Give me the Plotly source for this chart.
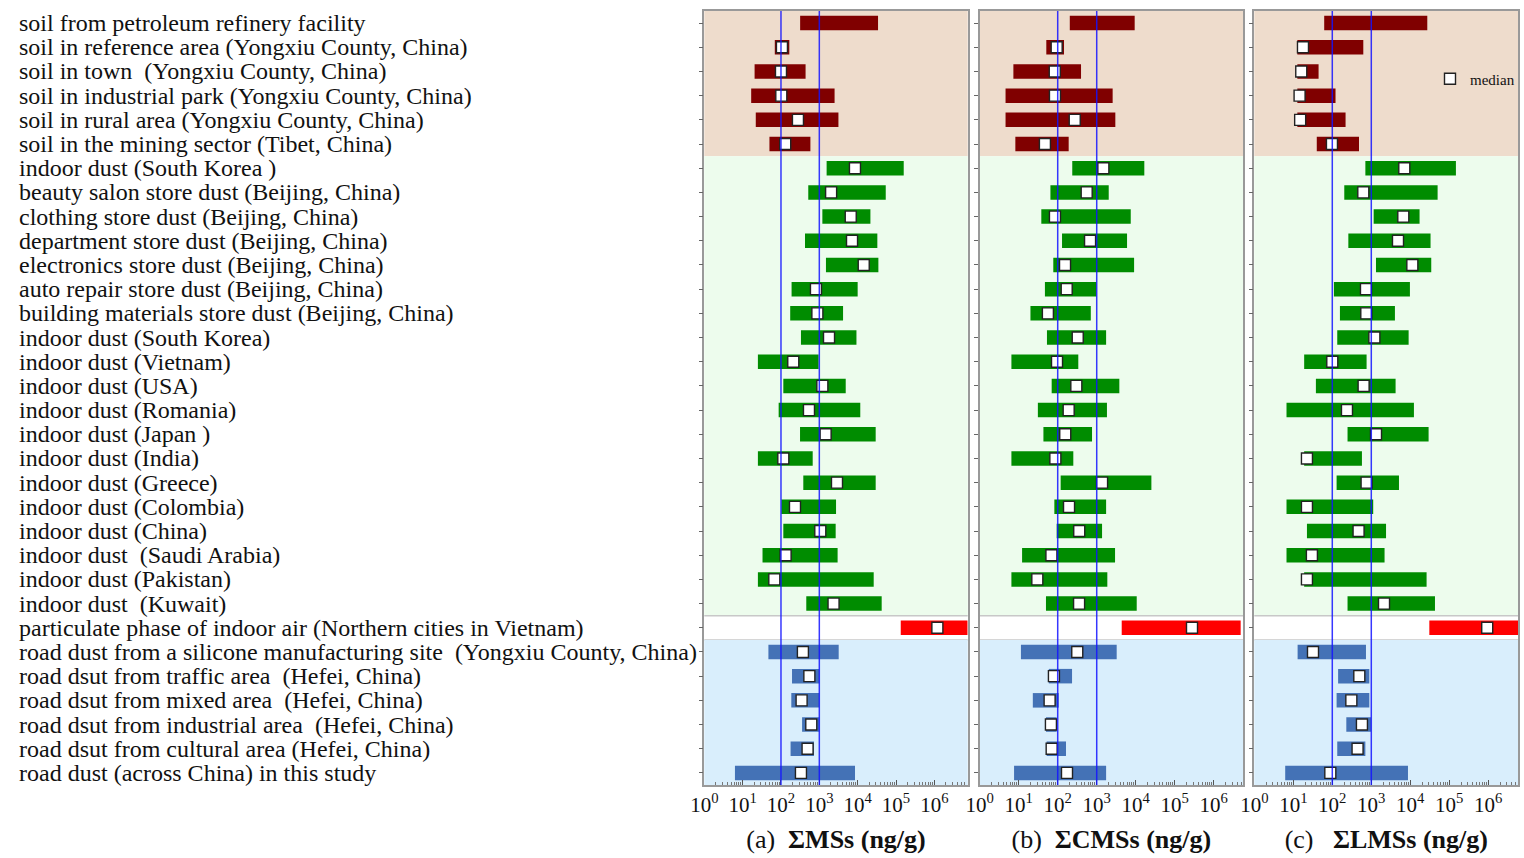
import plotly.graph_objects as go

# ---- categories (top to bottom) ----
labels = [
    "soil from petroleum refinery facility",
    "soil in reference area (Yongxiu County, China)",
    "soil in town  (Yongxiu County, China)",
    "soil in industrial park (Yongxiu County, China)",
    "soil in rural area (Yongxiu County, China)",
    "soil in the mining sector (Tibet, China)",
    "indoor dust (South Korea )",
    "beauty salon store dust (Beijing, China)",
    "clothing store dust (Beijing, China)",
    "department store dust (Beijing, China)",
    "electronics store dust (Beijing, China)",
    "auto repair store dust (Beijing, China)",
    "building materials store dust (Beijing, China)",
    "indoor dust (South Korea)",
    "indoor dust (Vietnam)",
    "indoor dust (USA)",
    "indoor dust (Romania)",
    "indoor dust (Japan )",
    "indoor dust (India)",
    "indoor dust (Greece)",
    "indoor dust (Colombia)",
    "indoor dust (China)",
    "indoor dust  (Saudi Arabia)",
    "indoor dust (Pakistan)",
    "indoor dust  (Kuwait)",
    "particulate phase of indoor air (Northern cities in Vietnam)",
    "road dust from a silicone manufacturing site  (Yongxiu County, China)",
    "road dsut from traffic area  (Hefei, China)",
    "road dsut from mixed area  (Hefei, China)",
    "road dsut from industrial area  (Hefei, China)",
    "road dsut from cultural area (Hefei, China)",
    "road dust (across China) in this study",
]
groups = ["soil"] * 6 + ["dust"] * 19 + ["air"] + ["road"] * 6

# ---- ΣMSs (ng/g): min, max, median ----
ms_low = [316, 69, 20.5, 16.7, 22, 50, 1550, 515, 1200, 423, 1490, 189, 174, 332, 25,
          115, 87, 314, 25, 382, 102, 115, 33, 25, 457, 133000, 47, 194, 186, 355, 178, 6.3]
ms_high = [34000, 165, 438, 2500, 3150, 585, 159000, 54000, 21500, 32600, 34700, 10000,
           4160, 9300, 957, 4880, 11700, 29500, 672, 29500, 2730, 2670, 3000, 26200, 42300,
           7.4e6, 3200, 1000, 1000, 1000, 725, 8530]
ms_median = [None, 106, 100, 102, 277, 129, 8500, 2030, 6600, 7130, 14400, 817, 890, 1790,
             209, 1200, 537, 1460, 115, 2890, 232, 1060, 132, 67, 2350, 1.2e6, 373, 550, 345,
             617, 494, 332]

# ---- ΣCMSs (ng/g) ----
cms_low = [204, 51, 7.3, 4.6, 4.6, 8.2, 236, 65, 38, 129, 77, 47, 20, 53, 6.5, 70, 31, 43,
           6.5, 119, 82, 94, 12.2, 6.5, 50, 4370, 11.4, 59, 23, 50, 52, 7.6]
cms_high = [9400, 145, 396, 2560, 3000, 191, 16600, 2030, 7450, 5990, 9080, 977, 705, 1740,
            337, 3800, 1830, 758, 251, 25200, 1740, 1370, 2950, 1870, 10600, 4.9e6, 3250,
            233, 106, 94, 163, 1740]
cms_median = [None, 94, 84, 85, 273, 47, 1480, 553, 85, 675, 154, 170, 56, 326, 96, 300,
              191, 156, 87, 1370, 195, 356, 69, 30, 353, 277000, 317, 80, 62, 67, 70, 173]

# ---- ΣLMSs (ng/g) ----
lms_low = [62, 12.7, 12.7, 12.7, 12.7, 40, 705, 203, 1150, 258, 1320, 110, 157, 134, 19,
           38, 6.7, 246, 19, 129, 6.7, 22.4, 6.7, 19, 246, 30800, 12.9, 141, 129, 229, 134, 6.2]
lms_high = [27300, 624, 44.5, 121, 219, 484, 148000, 50200, 17300, 33100, 34500, 9790, 4040,
            9070, 758, 4200, 12400, 29500, 576, 5130, 1120, 2390, 2190, 26200, 43000, 6.5e6,
            731, 890, 890, 984, 705, 8730]
lms_median = [None, 17.7, 16, 14.5, 15, 98, 7020, 624, 6620, 4840, 11300, 731, 745, 1200,
              100, 636, 238, 1320, 22.4, 758, 22.4, 472, 30, 22.4, 2120, 940000, 32, 493,
              308, 576, 445, 89]

tick_vals = [1, 10, 100, 1000, 1e4, 1e5, 1e6]
tick_text = ["10<sup>%d</sup>" % i for i in range(7)]
reference_levels = [100, 1000]

bar_colors = {"soil": "#800000", "dust": "#008C00", "air": "#FF0000", "road": "#4472B6"}
band_colors = {"soil": "#EEDCCC", "dust": "#EDFCED", "air": "#FFFFFF", "road": "#D9EEFC"}

FONT = "Liberation Serif, Times New Roman, serif"
W, H = 1524, 858

panels = [
    ("x", "y", ms_low, ms_high, ms_median, "(a)\u00a0\u00a0<b>ΣMSs (ng/g)</b>",
     (704.3, 967.7), 6.87),
    ("x2", "y2", cms_low, cms_high, cms_median, "(b)\u00a0\u00a0<b>ΣCMSs (ng/g)</b>",
     (979.7, 1243.0), 6.75),
    ("x3", "y3", lms_low, lms_high, lms_median, "(c)\u00a0\u00a0\u00a0<b>ΣLMSs (ng/g)</b>",
     (1254.3, 1518.3), 6.77),
]
y_dom = [1 - 785 / H, 1 - 11 / H]

fig = go.Figure()
layout = dict(
    width=W, height=H, margin=dict(l=0, r=0, t=0, b=0),
    paper_bgcolor="white", plot_bgcolor="white",
    font=dict(family=FONT, color="black"),
    barmode="overlay",
    showlegend=True,
    legend=dict(x=1430 / W, y=1 - 79 / H, xanchor="left", yanchor="middle",
                bgcolor="rgba(0,0,0,0)", font=dict(family=FONT, size=15, color="#111"),
                itemwidth=30, tracegroupgap=0),
)
shapes = []

# row spans for the background bands
spans = []
start = 0
for i in range(1, len(groups) + 1):
    if i == len(groups) or groups[i] != groups[start]:
        spans.append((groups[start], start - 0.5, i - 0.5))
        start = i

for k, (xa, ya, low, high, med, title, (px0, px1), xmax) in enumerate(panels):
    xkey = "xaxis" if k == 0 else "xaxis%d" % (k + 1)
    ykey = "yaxis" if k == 0 else "yaxis%d" % (k + 1)

    fig.add_trace(go.Bar(
        xaxis=xa, yaxis=ya, orientation="h", y=labels,
        base=low, x=[h - l for l, h in zip(low, high)],
        width=0.6, marker=dict(color=[bar_colors[g] for g in groups], line=dict(width=0)),
        showlegend=False, hoverinfo="skip",
    ))
    mx = [m for m in med if m is not None]
    my = [lab for lab, m in zip(labels, med) if m is not None]
    fig.add_trace(go.Scatter(
        xaxis=xa, yaxis=ya, x=mx, y=my, mode="markers", name="median",
        marker=dict(symbol="square", size=11, color="white",
                    line=dict(color="#222222", width=1.4)),
        showlegend=(k == 2),
    ))

    layout[xkey] = dict(
        domain=[px0 / W, px1 / W], anchor=ya, type="log", range=[0, xmax],
        tickvals=tick_vals, ticktext=tick_text, ticks="inside", ticklen=5,
        tickcolor="#555", tickfont=dict(family=FONT, size=21, color="#111"),
        showgrid=False, zeroline=False, showline=True, linecolor="#999",
        linewidth=1.5, mirror=True, automargin=False,
        minor=dict(ticks="inside", ticklen=3, tickcolor="#777", showgrid=False,
                   tickmode="array",
                   tickvals=[m * 10 ** d for d in range(7) for m in range(2, 10)]),
        title=dict(text=title, standoff=14, font=dict(family=FONT, size=26, color="#111")),
    )
    ycfg = dict(
        domain=y_dom, anchor=xa, type="category",
        categoryorder="array", categoryarray=labels,
        range=[len(labels) - 0.5, -0.5],
        showticklabels=False, ticks="outside", ticklen=4, tickcolor="#666",
        showgrid=False, zeroline=False, showline=True, linecolor="#999",
        linewidth=1.5, mirror=True, automargin=False,
    )
    if k > 0:
        ycfg["matches"] = "y"
    layout[ykey] = ycfg

    xref_dom = xa + " domain"
    for g, y0, y1 in spans:
        shapes.append(dict(type="rect", xref=xref_dom, yref=ya, x0=0, x1=1, y0=y0, y1=y1,
                           fillcolor=band_colors[g], line=dict(width=0), layer="below"))
        if g == "air":
            for yy in (y0, y1):
                shapes.append(dict(type="line", xref=xref_dom, yref=ya, x0=0, x1=1,
                                   y0=yy, y1=yy, line=dict(color="#c8c8c8", width=1.5),
                                   layer="below"))
    # guide lines at 100 and 1000 ng/g
    for lvl in reference_levels:
        shapes.append(dict(type="line", xref=xa, yref=ya + " domain", x0=lvl, x1=lvl,
                           y0=0, y1=1, line=dict(color="rgba(20,20,255,0.85)", width=1.5),
                           layer="above"))

# category names, left-aligned
annotations = []
for lab in labels:
    annotations.append(dict(
        xref="paper", yref="y", x=17 / W, y=lab, xanchor="left", yanchor="middle",
        text=lab.replace("  ", "\u00a0 "), showarrow=False,
        font=dict(family=FONT, size=24, color="#111"),
    ))

layout["shapes"] = shapes
layout["annotations"] = annotations
fig.update_layout(**layout)
fig.write_html("out.html")
